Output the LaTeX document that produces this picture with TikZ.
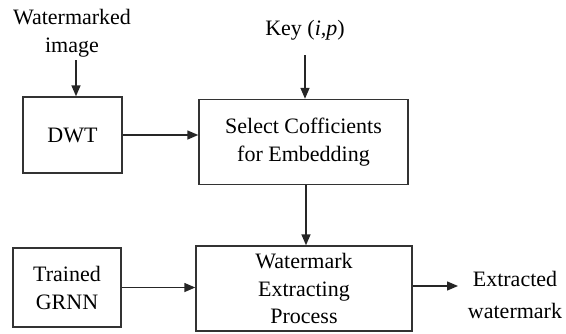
\documentclass[tikz,border=0pt]{standalone}
\usepackage{fontspec}
\setmainfont{Liberation Serif}
\usetikzlibrary{arrows.meta,calc}
\begin{document}
\begin{tikzpicture}[x=1pt,y=-1pt,
  blk/.style={draw=black!80,line width=1.4pt,inner sep=0pt,align=center,font=\fontsize{22}{28}\selectfont},
  lbl/.style={inner sep=0pt,align=center,font=\fontsize{22}{28}\selectfont},
  arr/.style={-{Triangle[length=11pt,width=9pt]},line width=1.4pt,draw=black!85}]
\useasboundingbox (0,0) rectangle (566,333);
\node[lbl] (wm) at (72,33) {Watermarked\\image};
\node[lbl] (key) at (305,30) {Key (\textit{i,p})};
\node[blk,minimum width=99pt,minimum height=76pt] (dwt) at (72.5,135) {DWT};
\node[blk,minimum width=209pt,minimum height=85pt] (sel) at (303.5,142) {Select Cofficients\\for Embedding};
\node[blk,minimum width=108pt,minimum height=79pt] (grnn) at (67,287.5) {Trained\\GRNN};
\node[blk,minimum width=216pt,minimum height=85pt,font=\fontsize{22}{27.5}\selectfont] (we) at (304,288.5) {Watermark\\Extracting\\Process};
\node[lbl,font=\fontsize{22}{32}\selectfont] (ex) at (515,295) {Extracted\\watermark};
\coordinate (wmtop) at (76,60);
\coordinate (keytop) at (305,55);
\coordinate (exend) at (458,286);
\draw[arr] (wmtop) -- (wmtop |- dwt.north);
\draw[arr] (keytop) -- (keytop |- sel.north);
\draw[arr] (dwt.east) -- (dwt.east -| sel.west);
\draw[arr] (sel.south -| 306,0) -- (we.north -| 306,0);
\draw[arr] (grnn.east) -- (grnn.east -| we.west);
\draw[arr] (we.east |- exend) -- (exend);
\end{tikzpicture}
\end{document}
